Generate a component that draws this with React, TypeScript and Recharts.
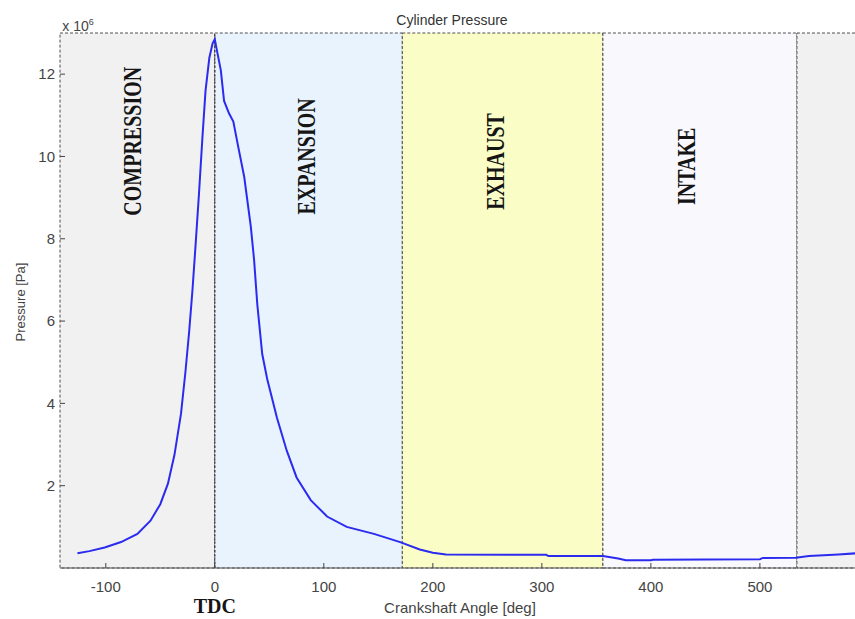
import { LineChart, Line, XAxis, YAxis, ReferenceArea, ReferenceLine, ReferenceDot } from "recharts";

// crank angle [deg] and cylinder pressure [x 10^6 Pa]
const angle = [
  -126, -115, -101, -86, -71, -59, -50, -43, -37, -31, -27, -23.5, -20.5, -17.5, -14.5, -11.5, -8.5, -5, -2, 0,
  2.5, 5.5, 8.5, 13, 17, 21, 27, 33, 36, 39, 43.5, 48, 57, 66, 75, 88, 103, 121, 146, 170,
  188, 200, 212, 304, 306, 356, 370, 377, 400, 402, 500, 502, 533, 545, 572, 590, 601,
];
const pressure = [
  0.36, 0.41, 0.5, 0.63, 0.83, 1.15, 1.55, 2.05, 2.75, 3.75, 4.75, 5.75, 6.75, 7.9, 9.1, 10.4, 11.6, 12.4, 12.75, 12.85,
  12.5, 12.1, 11.35, 11.05, 10.85, 10.3, 9.5, 8.3, 7.5, 6.4, 5.2, 4.6, 3.65, 2.85, 2.2, 1.65, 1.25, 1.0, 0.83, 0.63,
  0.45, 0.37, 0.33, 0.32, 0.29, 0.29, 0.23, 0.19, 0.19, 0.2, 0.21, 0.24, 0.25, 0.29, 0.33, 0.36, 0.37,
];

const xTicks = [-100, 0, 100, 200, 300, 400, 500];
const yTicks = [2, 4, 6, 8, 10, 12];

const phaseStart = [-142, 0, 172, 356, 534];
const phaseEnd = [0, 172, 356, 534, 601];
const phaseFill = ["#f1f1f1", "#e9f3fd", "#fafdc6", "#f8f8fd", "#f1f1f1"];
const phaseName = ["COMPRESSION", "EXPANSION", "EXHAUST", "INTAKE"];
const phaseLabelAngle = [-75, 84, 258, 433];
const phaseLabelLevel = [10.37, 10.0, 9.88, 9.76];

const data = angle.map((a, i) => ({ angle: a, p: pressure[i] }));

const tickStyle = { fontSize: 15, fill: "#444", fontFamily: "Liberation Sans, Arial" };

const PhaseLabel = ({ viewBox, text }: any) => {
  const cx = viewBox.x + viewBox.width / 2;
  const cy = viewBox.y + viewBox.height / 2;
  return (
    <text
      transform={`translate(${cx},${cy}) rotate(-90) scale(1,1.25)`}
      textAnchor="middle"
      dominantBaseline="central"
      fontFamily="Liberation Serif, Times New Roman"
      fontWeight="bold"
      fontSize={20}
      fill="#151515"
    >
      {text}
    </text>
  );
};

const abs = (x: number, y: number, extra: any = {}) => ({
  position: "absolute" as const,
  left: x,
  top: y,
  transform: "translate(-50%, -50%)",
  whiteSpace: "nowrap" as const,
  fontFamily: "Liberation Sans, Arial",
  color: "#444",
  ...extra,
});

export default function App() {
  return (
    <div style={{ position: "absolute", left: 0, top: 0, width: 855, height: 619, overflow: "hidden", background: "#fff" }}>
      <LineChart width={880} height={619} data={data} margin={{ top: 33, right: 10, bottom: 21, left: 0 }}>
        <XAxis
          dataKey="angle"
          type="number"
          domain={[-142, 601]}
          allowDataOverflow
          ticks={xTicks}
          height={30}
          tickSize={-5}
          tickMargin={18}
          tick={tickStyle}
          axisLine={{ stroke: "#555" }}
          tickLine={{ stroke: "#444" }}
        />
        <XAxis
          xAxisId="top"
          orientation="top"
          type="number"
          domain={[-142, 601]}
          allowDataOverflow
          ticks={xTicks}
          height={0}
          tickSize={-5}
          tick={false}
          axisLine={{ stroke: "#888" }}
          tickLine={{ stroke: "#444" }}
        />
        <YAxis
          type="number"
          domain={[0, 13]}
          ticks={yTicks}
          width={60}
          tickSize={-5}
          tickMargin={10}
          tick={tickStyle}
          axisLine={false}
          tickLine={{ stroke: "#444" }}
        />
        {phaseStart.map((s, i) => (
          <ReferenceArea
            key={i}
            x1={s}
            x2={phaseEnd[i]}
            fill={phaseFill[i]}
            fillOpacity={1}
            stroke="#333"
            strokeDasharray="3 2"
            strokeOpacity={0.85}
          />
        ))}
        <ReferenceLine
          x={0}
          stroke="#333"
          strokeDasharray="2 2"
          label={{
            value: "TDC",
            position: "bottom",
            offset: 31,
            fontFamily: "Liberation Serif, Times New Roman",
            fontWeight: "bold",
            fontSize: 20,
            fill: "#151515",
          }}
        />
        <Line
          dataKey="p"
          type="linear"
          stroke="#2b2bf0"
          strokeWidth={2}
          dot={false}
          isAnimationActive={false}
        />
        {phaseName.map((n, i) => (
          <ReferenceDot
            key={n}
            x={phaseLabelAngle[i]}
            y={phaseLabelLevel[i]}
            r={0}
            fill="none"
            stroke="none"
            label={{ content: (p: any) => <PhaseLabel {...p} text={n} /> }}
          />
        ))}
      </LineChart>
      <div style={abs(452, 20, { fontSize: 14, color: "#333" })}>Cylinder Pressure</div>
      <div style={abs(78, 25, { fontSize: 14 })}>
        x 10<sup style={{ fontSize: 9, verticalAlign: "6px" }}>6</sup>
      </div>
      <div style={abs(20, 302, { fontSize: 13, transform: "translate(-50%, -50%) rotate(-90deg)" })}>Pressure [Pa]</div>
      <div style={abs(460, 607, { fontSize: 15 })}>Crankshaft Angle [deg]</div>
    </div>
  );
}
